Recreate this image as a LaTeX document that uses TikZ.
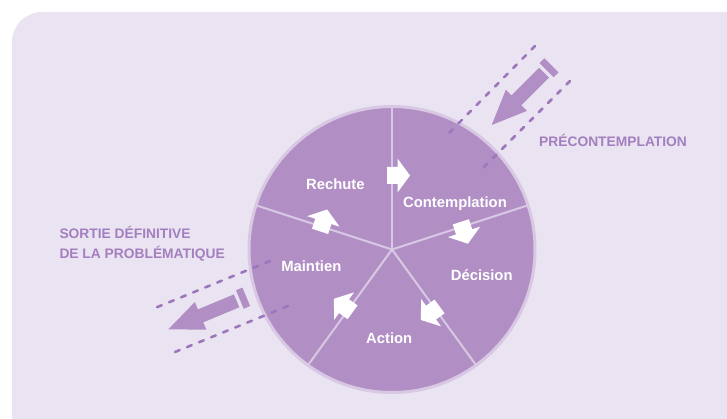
\documentclass[tikz,border=0pt]{standalone}
\usepackage{fontspec}
\setmainfont{Liberation Sans}
\definecolor{bgl}{HTML}{EAE3F1}
\definecolor{circ}{HTML}{B18FC4}
\definecolor{ringc}{HTML}{D8C8E3}
\definecolor{txt}{HTML}{A47FBF}
\definecolor{dashc}{HTML}{9D77BB}
\tikzset{
  stage/.style={text=white, font=\bfseries\fontsize{14.8}{17}\selectfont, anchor=base, inner sep=0pt},
  caption/.style={text=txt, font=\bfseries\fontsize{13.8}{16}\selectfont, anchor=base west, inner sep=0pt},
  dline/.style={dashc, line width=2.6pt, line cap=round, dash pattern=on 5pt off 8pt},
  bigarrow/.style={fill=circ},
}
\begin{document}
\begin{tikzpicture}[x=1pt,y=1pt]
\useasboundingbox (0,0) rectangle (727,419);
\fill[white] (0,0) rectangle (727,419);
\fill[bgl] (12,0) -- (12,377) arc[start angle=180,end angle=90,radius=30] -- (727,407) -- (727,0) -- cycle;
% wheel
\coordinate (C) at (392,169.5);
\fill[circ] (C) circle[radius=143];
\draw[ringc, line width=3pt] (C) circle[radius=143];
\foreach \a in {90,18,-54,-126,162}{
  \draw[ringc, line width=2pt] (C) -- ++(\a:143);
}
\foreach \a in {90,18,-54,-126,162}{
  \begin{scope}[shift={(C)}, rotate=\a, shift={(74,0)}, rotate=-90]
    \fill[white] (-5,-8.5) -- (5.5,-8.5) -- (5.5,-17) -- (18,0) -- (5.5,17) -- (5.5,8.5) -- (-5,8.5) -- cycle;
  \end{scope}
}
% labels
\node[stage] (rechute) at (335.3,229.7) {Rechute};
\node[stage] (contemplation) at (455,211.7) {Contemplation};
\node[stage] (decision) at (481.7,138) {Décision};
\node[stage] (maintien) at (311.3,147.3) {Maintien};
\node[stage] (action) at (389.2,75.7) {Action};
% dashed lines
\coordinate (tra) at (535,373);
\coordinate (trb) at (449,286);
\coordinate (trc) at (570,338);
\coordinate (trd) at (483,251);
\draw[dline] (tra) -- (trb);
\draw[dline] (trc) -- (trd);
\coordinate (la) at (270,158);
\coordinate (lb) at (156.7,111.7);
\coordinate (lc) at (288,113);
\coordinate (ld) at (175,67);
\draw[dline] (la) -- (lb);
\draw[dline] (lc) -- (ld);
% big arrows
\begin{scope}[shift={(491.7,294)}, rotate=45]
  \fill[bigarrow] (0,0) -- (35,15) -- (35,7) -- (74,7) -- (74,-7) -- (35,-7) -- (35,-15) -- cycle;
  \fill[bigarrow] (77.5,-10) rectangle (84.5,10);
\end{scope}
\begin{scope}[shift={(168.3,89.7)}, rotate=22.6]
  \fill[bigarrow] (0,0) -- (35,15) -- (35,7) -- (74,7) -- (74,-7) -- (35,-7) -- (35,-15) -- cycle;
  \fill[bigarrow] (77.5,-10) rectangle (84.5,10);
\end{scope}
% captions
\node[caption] (precontemplation) at (539,272.3) {PRÉCONTEMPLATION};
\node[caption] (sortie1) at (59.3,180.7) {SORTIE DÉFINITIVE};
\node[caption] (sortie2) at (59.3,160.7) {DE LA PROBLÉMATIQUE};
\end{tikzpicture}
\end{document}
